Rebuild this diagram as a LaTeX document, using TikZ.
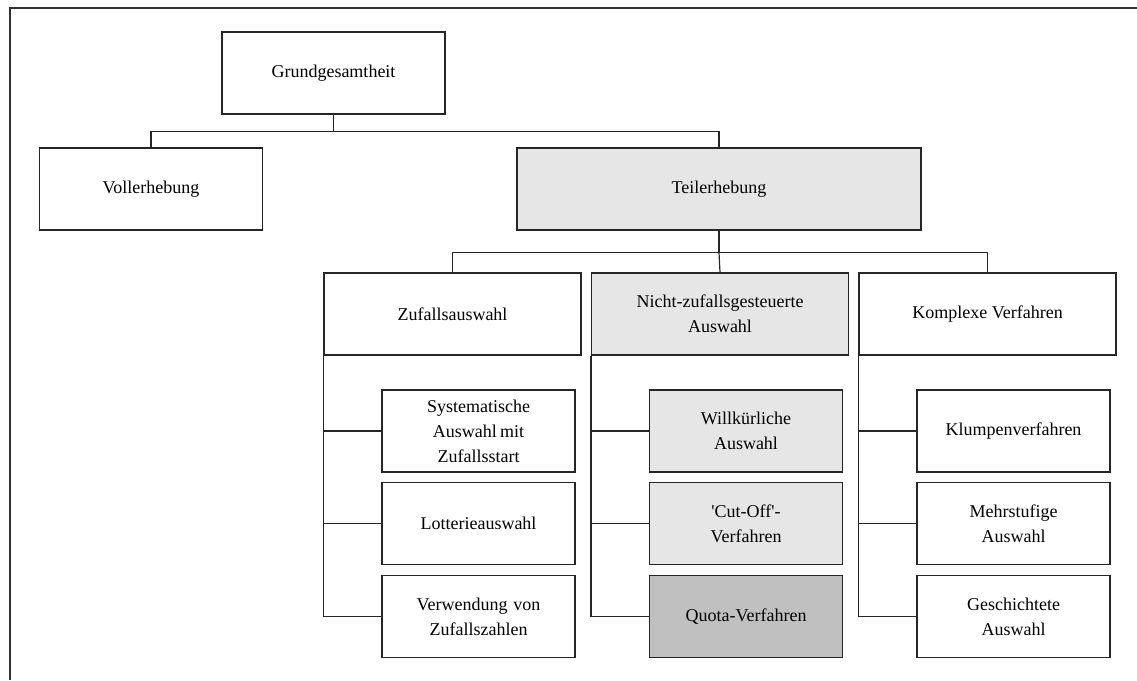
\documentclass[tikz,border=0pt]{standalone}
\usepackage{fontspec}
\setmainfont{Liberation Serif}
\definecolor{lightgrey}{HTML}{E6E6E6}
\definecolor{midgrey}{HTML}{C0C0C0}
\begin{document}
\begin{tikzpicture}[x=1pt,y=-1pt,
  box/.style={draw=black!85, line width=1.1pt, fill=white, align=center,
    inner sep=2pt, font=\fontsize{18}{25}\selectfont,
    minimum height=82pt},
  topbox/.style={box, minimum width=223pt},
  midbox/.style={box, minimum width=257pt},
  leafbox/.style={box, minimum width=193pt, text width=185pt},
  shaded/.style={fill=lightgrey},
  darkshaded/.style={fill=midgrey},
  link/.style={draw=black!85, line width=1.2pt}]
\useasboundingbox (0,0) rectangle (1137,680);
% outer frame (only its top and left edges lie inside the page)
\draw[line width=1.8pt, black!80] (10,680) -- (10,8) -- (1137,8);

% first and second level
\node[topbox] (G) at (333.5,73) {Grundgesamtheit};
\node[topbox] (V) at (151,189) {Vollerhebung};
\node[box, shaded, minimum width=404pt] (T) at (719,189) {Teilerhebung};

% third level
\node[midbox] (Z) at (452.5,314) {Zufallsauswahl};
\node[midbox, shaded] (N) at (720,314) {Nicht-zufallsgesteuerte\\Auswahl};
\node[midbox] (K) at (987.5,314) {Komplexe Verfahren};

% leaves under Zufallsauswahl
\node[leafbox] (z1) at (478.5,431) {Systematische\\Auswahl\hspace{-0.15em} mit\\Zufallsstart};
\node[leafbox] (z2) at (478.5,523.5) {Lotterieauswahl};
\node[leafbox] (z3) at (478.5,616.5) {Verwendung von\\Zufallszahlen};

% leaves under Nicht-zufallsgesteuerte Auswahl
\node[leafbox, shaded] (n1) at (746,431) {Willkürliche\\Auswahl};
\node[leafbox, shaded] (n2) at (746,523.5) {\textquotesingle Cut-Off\textquotesingle-\\Verfahren};
\node[leafbox, darkshaded] (n3) at (746,616.5) {Quota-Verfahren};

% leaves under Komplexe Verfahren
\node[leafbox] (k1) at (1013.5,431) {Klumpenverfahren};
\node[leafbox] (k2) at (1013.5,523.5) {Mehrstufige\\Auswahl};
\node[leafbox] (k3) at (1013.5,616.5) {Geschichtete\\Auswahl};

% tree connectors
\draw[link] (G.south) -- ++(0,17) coordinate (j1);
\draw[link] (V.north) |- (j1) -| (T.north);
\draw[link] (T.south) -- ++(0,22) coordinate (j2);
\draw[link] (Z.north) |- (j2) -| (K.north);
\draw[link] (j2) -- (N.north);

% leaf connectors
\foreach \p/\c in {Z/z, N/n, K/k}{
  \draw[link] (\p.south west) |- (\c3.west);
  \draw[link] (\p.south west |- \c1.west) -- (\c1.west);
  \draw[link] (\p.south west |- \c2.west) -- (\c2.west);
}
\end{tikzpicture}
\end{document}
